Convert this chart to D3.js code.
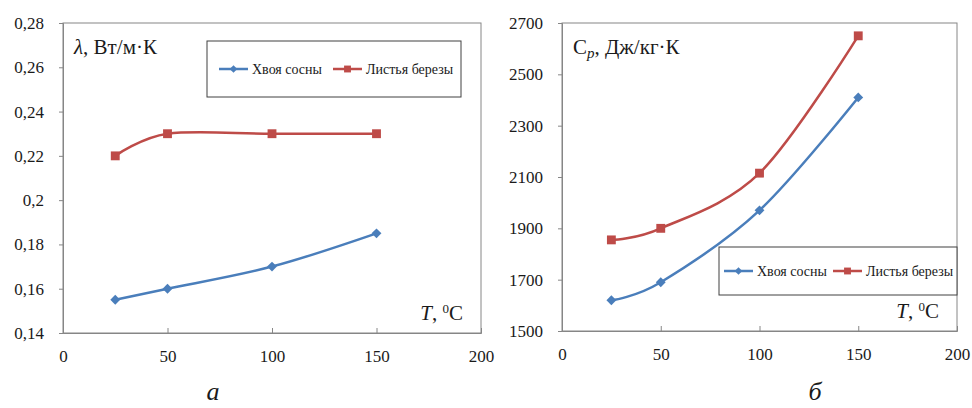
<!DOCTYPE html>
<html>
<head>
<meta charset="utf-8">
<script src="https://cdn.jsdelivr.net/npm/d3@7"></script>
<style>
  body { margin: 0; background: #fff; }
</style>
</head>
<body>
<svg id="chart" width="972" height="408"></svg>
<script>
// temperatures, °C
const temps = [25, 50, 100, 150];
const xTicks = [0, 50, 100, 150, 200];

// thermal conductivity, W/m·K
const lambdaPine = [0.155, 0.16, 0.17, 0.185];
const lambdaBirch = [0.22, 0.23, 0.23, 0.23];
const lambdaTicks = [0.14, 0.16, 0.18, 0.2, 0.22, 0.24, 0.26, 0.28];

// heat capacity, J/kg·K
const cpPine = [1620, 1690, 1970, 2410];
const cpBirch = [1855, 1900, 2115, 2650];
const cpTicks = [1500, 1700, 1900, 2100, 2300, 2500, 2700];

const seriesNames = ["Хвоя сосны", "Листья березы"];
const blue = "#4a7ebb", red = "#be4b48";
const serif = "'Liberation Serif'";
const ink = "#1a1a1a";

const svg = d3.select("#chart");
const fmtComma = v => String(v).replace(".", ",");

function txt(sel) {
    return sel.append("text").attr("font-family", serif).attr("fill", ink);
}

function drawPanel(opt) {
    const g = svg.append("g");
    const x = d3.scaleLinear().domain([0, 200]).range([opt.left, opt.right]);
    const y = d3.scaleLinear().domain(d3.extent(opt.yTicks)).range([opt.bottom, opt.top]);

    // frame
    g.append("rect")
        .attr("x", opt.left).attr("y", opt.top)
        .attr("width", opt.right - opt.left).attr("height", opt.bottom - opt.top)
        .attr("fill", "none").attr("stroke", "#868686").attr("stroke-width", 1);

    const yAxis = g.append("g")
        .attr("transform", `translate(${opt.left},0)`)
        .call(d3.axisLeft(y).tickValues(opt.yTicks).tickFormat(opt.fmt).tickSize(4).tickPadding(15));
    const xAxis = g.append("g")
        .attr("transform", `translate(0,${opt.bottom})`)
        .call(d3.axisBottom(x).tickValues(xTicks).tickSize(-5).tickPadding(17));
    [xAxis, yAxis].forEach(a => {
        a.attr("font-family", serif).attr("font-size", 17);
        a.select(".domain").attr("stroke", "#868686");
        a.selectAll(".tick line").attr("stroke", "#868686");
        a.selectAll("text").attr("font-family", serif).attr("font-size", 17).attr("fill", ink);
    });
    xAxis.selectAll(".tick text").attr("dy", "0.71em");

    const line = d3.line()
        .x((d, i) => x(temps[i]))
        .y(d => y(d))
        .curve(d3.curveCatmullRom.alpha(0));

    const series = [
        { values: opt.pine, color: blue, marker: d3.symbolDiamond2, size: 62 },
        { values: opt.birch, color: red, marker: d3.symbolSquare2, size: 100 }
    ];
    series.forEach(s => {
        g.append("path").attr("d", line(s.values))
            .attr("fill", "none").attr("stroke", s.color).attr("stroke-width", 2.5);
        g.selectAll(null).data(s.values).join("path")
            .attr("transform", (d, i) => `translate(${x(temps[i])},${y(d)})`)
            .attr("d", d3.symbol(s.marker, s.size))
            .attr("fill", s.color);
    });

    // legend
    const L = opt.legend;
    g.append("rect").attr("x", L.x).attr("y", L.y).attr("width", L.w).attr("height", L.h)
        .attr("fill", "#fff").attr("stroke", "#404040").attr("stroke-width", 1);
    series.forEach((s, i) => {
        const lx = L.items[i];
        const ly = L.y + L.h / 2;
        g.append("line").attr("x1", lx).attr("x2", lx + 29).attr("y1", ly).attr("y2", ly)
            .attr("stroke", s.color).attr("stroke-width", 2.5);
        g.append("path").attr("transform", `translate(${lx + 14.5},${ly})`)
            .attr("d", d3.symbol(s.marker, s.size * 0.6)).attr("fill", s.color);
        txt(g).attr("x", lx + 33).attr("y", ly).attr("dy", "0.35em")
            .attr("font-size", 14).text(seriesNames[i]);
    });

    // axis titles
    opt.yTitle(txt(g).attr("x", opt.left + 11).attr("y", opt.top + 31).attr("font-size", 21));
    const tt = txt(g).attr("x", opt.right - 18).attr("y", opt.bottom - 13)
        .attr("text-anchor", "end").attr("font-size", 21);
    tt.append("tspan").attr("font-style", "italic").text("T");
    tt.append("tspan").text(", ");
    tt.append("tspan").attr("font-size", 13).attr("dy", -7).text("0");
    tt.append("tspan").attr("dy", 7).text("C");

    txt(g).attr("x", opt.caption).attr("y", 400)
        .attr("text-anchor", "middle").attr("font-size", 26).attr("font-style", "italic")
        .text(opt.captionText);
}

drawPanel({
    left: 63, right: 481, top: 23, bottom: 333,
    yTicks: lambdaTicks, fmt: fmtComma,
    pine: lambdaPine, birch: lambdaBirch,
    legend: { x: 207, y: 41, w: 254, h: 56, items: [219, 333] },
    yTitle: t => {
        t.append("tspan").attr("font-style", "italic").text("λ");
        t.append("tspan").text(", Вт/м·К");
    },
    caption: 213, captionText: "а"
});

drawPanel({
    left: 562, right: 957, top: 23, bottom: 331,
    yTicks: cpTicks, fmt: d => d,
    pine: cpPine, birch: cpBirch,
    legend: { x: 719, y: 247, w: 238, h: 48, items: [724, 833] },
    yTitle: t => {
        t.append("tspan").text("C");
        t.append("tspan").attr("font-style", "italic").attr("font-size", 15).attr("dy", 4).text("p");
        t.append("tspan").attr("dy", -4).text(", Дж/кг·К");
    },
    caption: 815, captionText: "б"
});
</script>
</body>
</html>
